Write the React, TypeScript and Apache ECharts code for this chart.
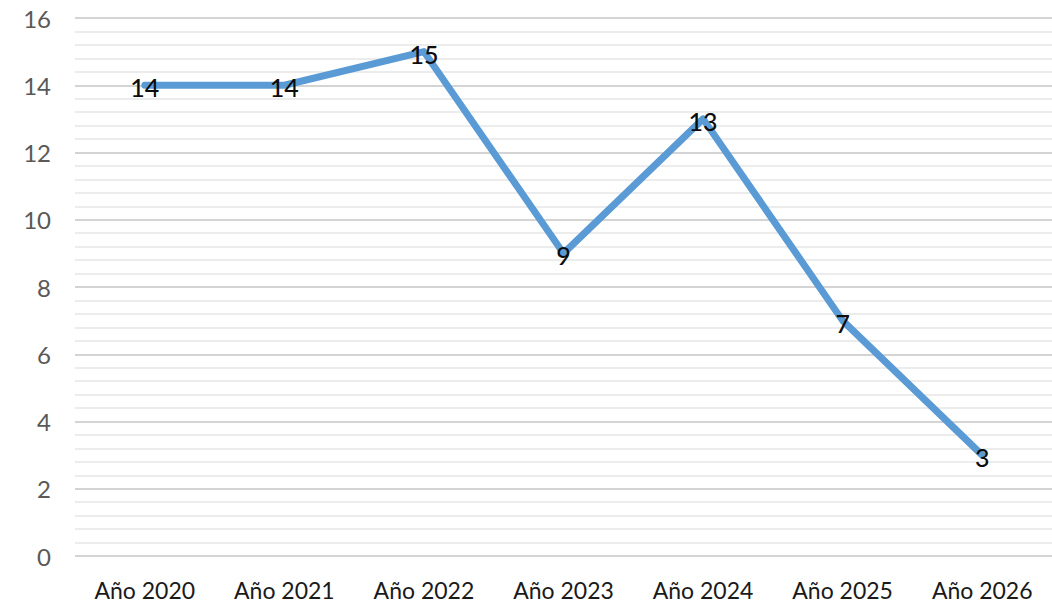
import React, { useEffect, useRef } from "react";
import * as echarts from "echarts";

const categories = ["Año 2020", "Año 2021", "Año 2022", "Año 2023", "Año 2024", "Año 2025", "Año 2026"];
const values = [14, 14, 15, 9, 13, 7, 3];
const yMin = 0;
const yMax = 16;
const yInterval = 2;

export default function App() {
  const ref = useRef<HTMLDivElement>(null);
  useEffect(() => {
    if (!ref.current) return;
    const chart = echarts.init(ref.current, null, { renderer: "svg" });
    chart.setOption({
      animation: false,
      backgroundColor: "#ffffff",
      grid: { left: 75, top: 18, width: 985, height: 538, containLabel: false },
      xAxis: {
        type: "category",
        data: categories,
        boundaryGap: true,
        axisLine: { show: false },
        axisTick: { show: false },
        axisLabel: {
          color: "#1a1a1a",
          fontFamily: "Lato, sans-serif",
          fontSize: 23,
          margin: 22,
          interval: 0,
        },
      },
      yAxis: {
        type: "value",
        min: yMin,
        max: yMax,
        interval: yInterval,
        axisLine: { show: false },
        axisTick: { show: false },
        axisLabel: {
          color: "#595959",
          fontFamily: "Lato, sans-serif",
          fontSize: 24,
          margin: 24,
        },
        splitLine: { lineStyle: { color: "#d4d4d4", width: 2 } },
        minorTick: { show: false, splitNumber: 5 },
        minorSplitLine: { show: true, lineStyle: { color: "#ececec", width: 2 } },
      },
      series: [
        {
          type: "line",
          data: values,
          symbol: "circle",
          symbolSize: 5,
          showSymbol: true,
          itemStyle: { color: "#5b9bd5" },
          lineStyle: { color: "#5b9bd5", width: 7, cap: "round", join: "round" },
          label: {
            show: true,
            position: "top",
            distance: 0,
            offset: [0, 17],
            color: "#0d0d0d",
            fontFamily: "Lato, sans-serif",
            fontWeight: 500,
            fontSize: 25,
          },
        },
      ],
    });
    return () => chart.dispose();
  }, []);
  return (
    <div
      ref={ref}
      style={{ position: "absolute", left: 0, top: 0, width: 1052, height: 608 }}
    />
  );
}
